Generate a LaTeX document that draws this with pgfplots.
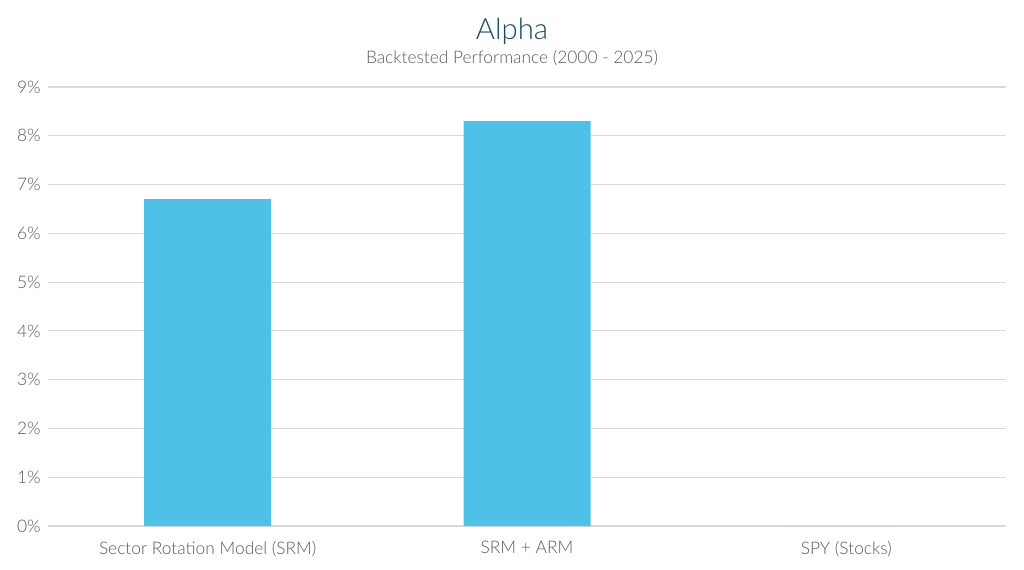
\documentclass[border=0pt]{standalone}
\usepackage{pgfplots}
\pgfplotsset{compat=1.18}
\usepackage{fontspec}
\IfFontExistsTF{Lato Light}{\setmainfont{Lato Light}}{\setmainfont{Lato}}
\definecolor{barblue}{HTML}{4FC0E8}
\definecolor{titleteal}{HTML}{1D4B5C}
\definecolor{labelgray}{HTML}{595959}
\definecolor{gridgray}{HTML}{D9D9D9}
\begin{document}
\begin{tikzpicture}
\begin{axis}[
    scale only axis,
    width=718.5pt, height=329.25pt,
    ybar, bar width=95.25pt,
    xmin=-0.5, xmax=2.5,
    ymin=0, ymax=9,
    xtick={0,1,2},
    xticklabels={Sector Rotation Model (SRM), SRM + ARM, SPY (Stocks)},
    ytick={0,1,...,9},
    yticklabel={\pgfmathprintnumber{\tick}\%},
    /pgf/number format/assume math mode=true,
    major tick length=0pt,
    axis line style={draw=none},
    ymajorgrids, grid style={gridgray, line width=0.8pt},
    ticklabel style={font=\fontsize{13}{15}\selectfont, text=labelgray},
    yticklabel style={xshift=-2pt},
    xticklabel style={yshift=-8pt},
]
\addplot[fill=barblue, draw=none] coordinates {(0,6.7) (1,8.3) (2,0)};
\end{axis}
\node[text=titleteal, font=\fontsize{22}{26}\selectfont] at (348pt,371pt) {Alpha};
\node[text=labelgray, font=\fontsize{13}{15}\selectfont] at (348pt,351pt) {Backtested Performance (2000 - 2025)};
\pgfresetboundingbox
\useasboundingbox (-36pt,-32.25pt) rectangle (732pt,394.5pt);
\end{tikzpicture}
\end{document}
